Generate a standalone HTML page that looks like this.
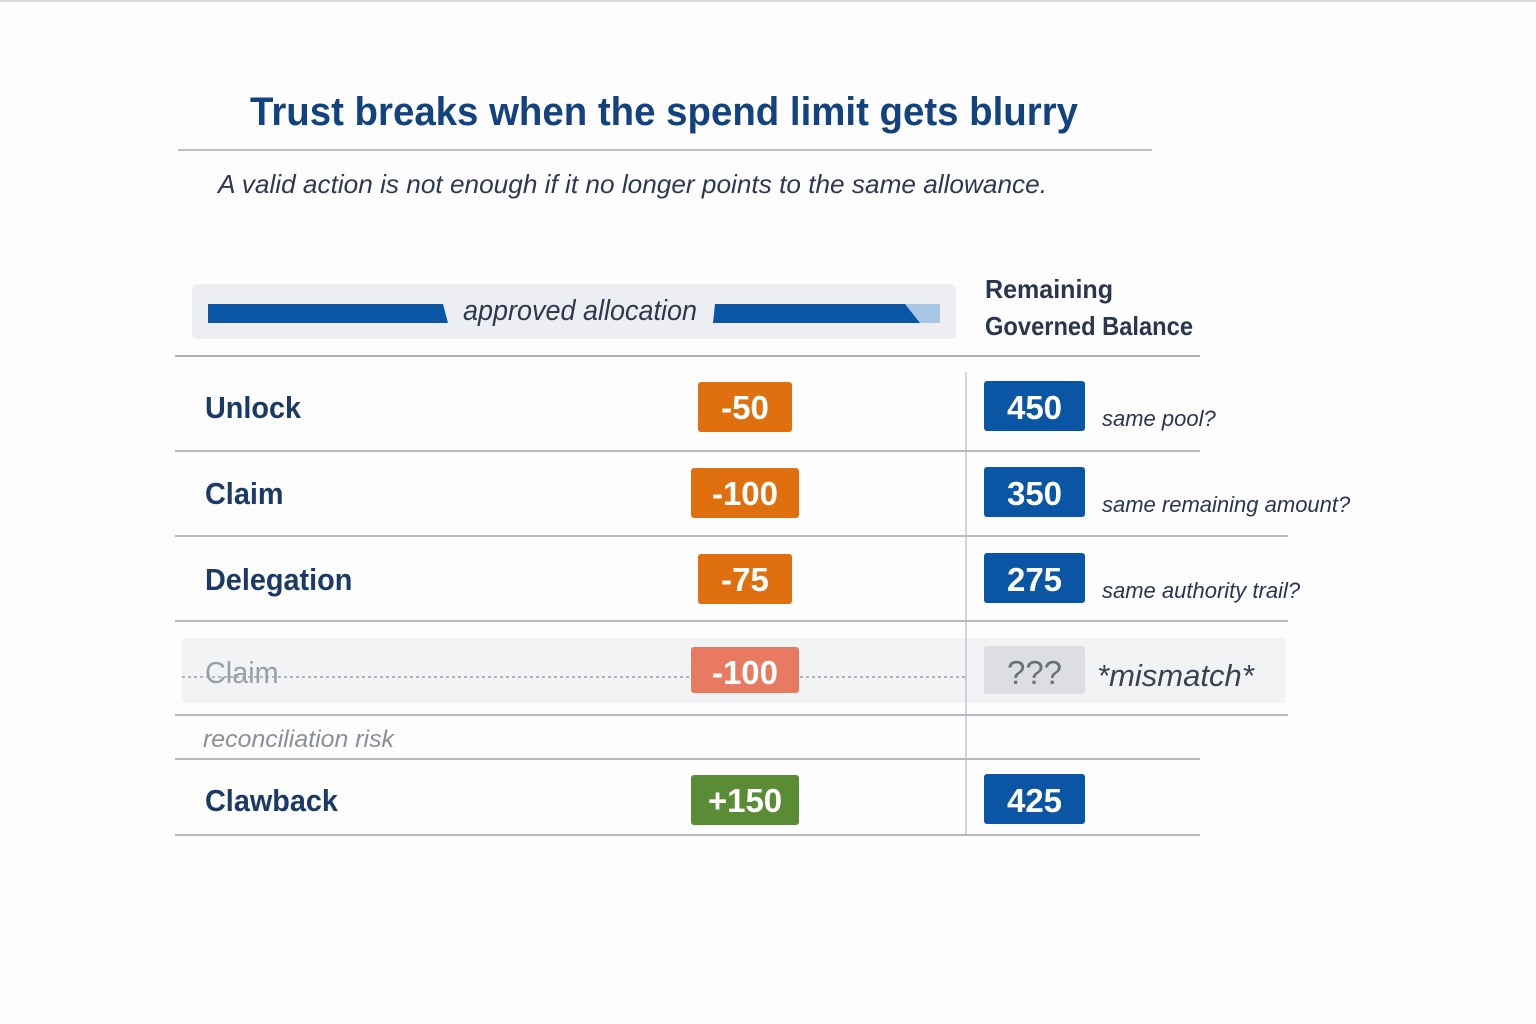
<!DOCTYPE html>
<html><head><meta charset="utf-8">
<style>
html,body{margin:0;padding:0;background:#fdfdfe;}
svg{display:block;font-family:"Liberation Sans",sans-serif;}
</style></head>
<body>
<svg id="chart" width="1536" height="1024" viewBox="0 0 1536 1024">
<rect x="0" y="0" width="1536" height="1024" fill="#fdfdfe"/>
<line x1="0" y1="1" x2="1536" y2="1" stroke="#d8dbe0" stroke-width="2"/>
<text x="250" y="125" font-size="40" font-weight="bold" fill="#12427f" textLength="828" lengthAdjust="spacingAndGlyphs">Trust breaks when the spend limit gets blurry</text>
<line x1="178" y1="150" x2="1152" y2="150" stroke="#b9bec8" stroke-width="2"/>
<text x="218" y="193" font-size="26" font-style="italic" fill="#2e3950" textLength="829" lengthAdjust="spacingAndGlyphs">A valid action is not enough if it no longer points to the same allowance.</text>

<g>
<rect x="192" y="284" width="764" height="55" rx="5" fill="#eceef2"/>
<polygon points="208,304 443,304 448,323 208,323" fill="#0b56a4"/>
<polygon points="715,304 940,304 940,323 713,323" fill="#0b56a4"/>
<polygon points="905,304 940,304 940,323 920,323" fill="#a9c6e4"/>
<text x="463" y="320" font-size="29" font-style="italic" fill="#2e3950" textLength="234" lengthAdjust="spacingAndGlyphs">approved allocation</text>
</g>
<text x="985" y="298" font-size="26" font-weight="bold" fill="#2a3550" textLength="128" lengthAdjust="spacingAndGlyphs">Remaining</text>
<text x="985" y="335" font-size="26" font-weight="bold" fill="#2a3550" textLength="208" lengthAdjust="spacingAndGlyphs">Governed Balance</text>

<line x1="175" y1="356" x2="1200" y2="356" stroke="#a9aeb8" stroke-width="2"/>
<rect x="182" y="638" width="1104" height="65" rx="3" fill="#f2f3f5"/>
<line x1="182" y1="677" x2="966" y2="677" stroke="#9aa0aa" stroke-width="1.5" stroke-dasharray="3,3"/>
<line x1="966" y1="372" x2="966" y2="835" stroke="#c3c7cf" stroke-width="1.5"/>
<g id="rows"></g>
<text x="203" y="747" font-size="24" font-style="italic" fill="#8a8f98" textLength="191" lengthAdjust="spacingAndGlyphs">reconciliation risk</text>
</svg>
<script>
// Row data
const labels = ["Unlock", "Claim", "Delegation", "Claim", "Clawback"];
const deltas = [-50, -100, -75, -100, 150];
const balances = ["450", "350", "275", "???", "425"];
const notes = ["same pool?", "same remaining amount?", "same authority trail?", "*mismatch*", ""];
const kinds = ["normal", "normal", "normal", "ghost", "normal"];

const NS = "http://www.w3.org/2000/svg";
const g = document.getElementById("rows");
const rowCenters = [407, 493, 579, 672, 800];
const sepYs = [451, 536, 621, 715, 759, 835];
const sepEnds = [1200, 1288, 1288, 1288, 1200, 1200];
function mk(tag, attrs){ const e=document.createElementNS(NS,tag); for(const k in attrs) e.setAttribute(k,attrs[k]); g.appendChild(e); return e; }
sepYs.forEach((y,i)=>{
  const l = mk("line",{x1:175,y1:y,x2:sepEnds[i],y2:y,stroke:"#b4b9c2","stroke-width":2});
  
  
});
labels.forEach((lab,i)=>{
  const cy = rowCenters[i];
  const ghost = kinds[i]==="ghost";
  const t = mk("text",{x:205,y:cy+11,"font-size":31,"font-weight":ghost?"normal":"bold",fill:ghost?"#9a9ea6":"#1c3a66",transform:"translate(205 0) scale(0.93 1) translate(-205 0)"});
  t.textContent = lab;
  
  
  const d = deltas[i];
  const txt = (d>0?"+":"") + d;
  const w = 52 + txt.length*14;
  const col = ghost ? "#e87a62" : (d>0 ? "#5a8c35" : "#e0700f");
  const r = mk("rect",{x:745-w/2,y:cy-25,width:w,height:ghost?46:50,rx:3,fill:col});
  
  
  const dt = mk("text",{x:745,y:cy+12,"font-size":33,"font-weight":"bold",fill:"#ffffff","text-anchor":"middle"});
  dt.textContent = txt;
  
  
  const b = mk("rect",{x:984,y:cy-26,width:101,height:ghost?48:50,rx:3,fill:ghost?"#dcdee2":"#0b56a4"});
  
  
  const bt = mk("text",{x:1034.5,y:cy+12,"font-size":33,"font-weight":ghost?"normal":"bold",fill:ghost?"#6b7079":"#ffffff","text-anchor":"middle"});
  bt.textContent = balances[i];
  
  
  if(notes[i]){
    const n = mk("text",ghost?{x:1097,y:cy+14,"font-size":31,"font-style":"italic",fill:"#3a4150"}:{x:1102,y:cy+19,"font-size":22,"font-style":"italic",fill:"#2a3550"});
    n.textContent = notes[i];
    
    
  }
});
</script>
</body></html>
